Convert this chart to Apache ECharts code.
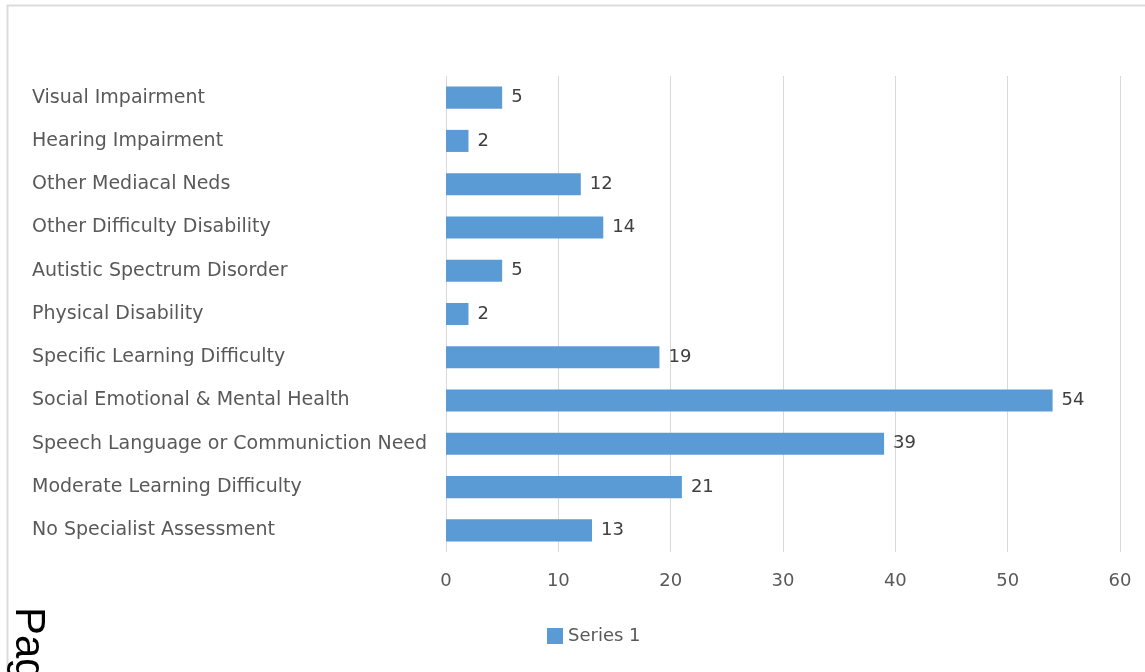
<!DOCTYPE html>
<html>
<head>
<meta charset="utf-8">
<script src="https://cdn.jsdelivr.net/npm/echarts@6/dist/echarts.min.js"></script>
<style>
html,body{margin:0;padding:0;background:#fff;}
#chart{width:1145px;height:672px;}
</style>
</head>
<body>
<div id="chart"></div>
<script>
// Categories listed bottom to top (ECharts category axis draws first at bottom)
var categories = [
  "No Specialist Assessment",
  "Moderate Learning Difficulty",
  "Speech Language or Communiction Need",
  "Social Emotional & Mental Health",
  "Specific Learning Difficulty",
  "Physical Disability",
  "Autistic Spectrum Disorder",
  "Other Difficulty Disability",
  "Other Mediacal Neds",
  "Hearing Impairment",
  "Visual Impairment"
];
var series1 = [13, 21, 39, 54, 19, 2, 5, 14, 12, 2, 5];
var seriesName = "Series 1";
var xTicks = { min: 0, max: 60, interval: 10 };

var FONT = "DejaVu Sans";
var FS = 19;
var chart = echarts.init(document.getElementById('chart'), null, {renderer: 'canvas'});
chart.setOption({
  animation: false,
  backgroundColor: '#ffffff',
  textStyle: { fontFamily: FONT },
  grid: { left: 446, right: 25, top: 76, bottom: 120, containLabel: false },
  legend: {
    data: [{ name: seriesName, icon: 'rect' }],
    bottom: 22,
    left: 542,
    itemWidth: 16,
    itemHeight: 16,
    itemGap: 5,
    textStyle: { color: '#595959', fontSize: 18, fontFamily: FONT }
  },
  xAxis: {
    type: 'value',
    min: xTicks.min, max: xTicks.max, interval: xTicks.interval,
    axisLine: { show: false },
    axisTick: { show: false },
    splitLine: { show: true, lineStyle: { color: '#d9d9d9', width: 1 } },
    axisLabel: { color: '#595959', fontSize: 18, margin: 20, fontFamily: FONT }
  },
  yAxis: {
    type: 'category',
    data: categories,
    axisLine: { show: false },
    axisTick: { show: false },
    axisLabel: { color: '#595959', fontSize: FS, align: 'left', margin: 414, fontFamily: FONT }
  },
  series: [{
    name: seriesName,
    type: 'bar',
    data: series1,
    barWidth: '51%',
    itemStyle: { color: '#5B9BD5' },
    label: { show: true, position: 'right', distance: 9, color: '#404040', fontSize: 18, fontFamily: FONT }
  }],
  graphic: [
    { type: 'rect', left: 5, top: 3, shape: { width: 1200, height: 800 }, style: { fill: 'none', stroke: '#dcdcdc', lineWidth: 2 }, z: -1 },
    { type: 'text', x: 7, y: 607, rotation: -Math.PI/2,
      style: { text: 'Page', fontSize: 42, fontFamily: 'Liberation Sans', fill: '#000', textAlign: 'left', textVerticalAlign: 'bottom' } }
  ]
});
</script>
</body>
</html>
